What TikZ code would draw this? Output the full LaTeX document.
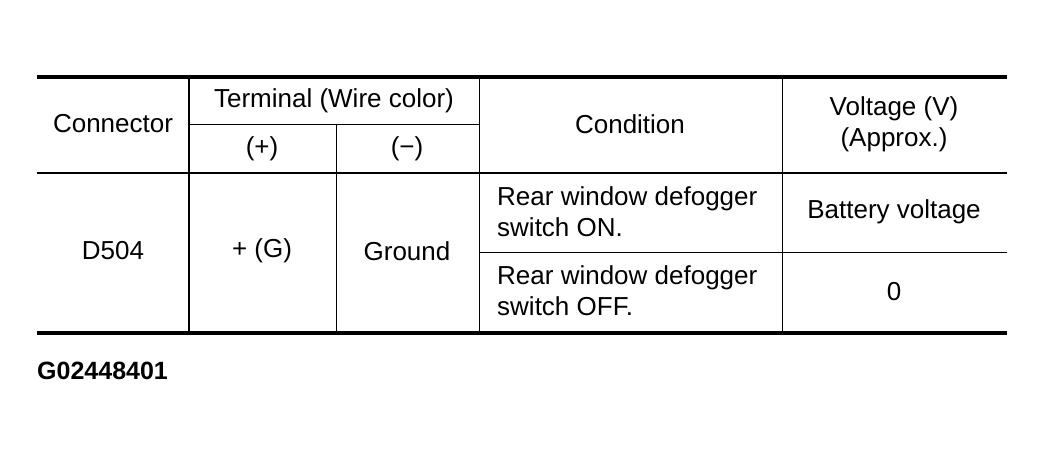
\documentclass[tikz,border=0pt]{standalone}
\usepackage{fontspec}
\setmainfont{Liberation Sans}
\usetikzlibrary{positioning}
\tikzset{cell/.style={inner sep=0pt, align=center, font=\fontsize{26}{31}\selectfont},
         lcell/.style={cell, align=left, anchor=west},
         rulebold/.style={line width=3.5pt},
         rulemid/.style={line width=2pt},
         rulethin/.style={line width=1pt}}

\begin{document}
\begin{tikzpicture}[x=1pt, y=-1pt]
  \useasboundingbox (0,0) rectangle (1044,454);

  % grid corners
  \coordinate (TL) at (37,77);    \coordinate (TR) at (1007,77);
  \coordinate (HL) at (37,173);   \coordinate (HR) at (1007,173);
  \coordinate (BL) at (37,333);   \coordinate (BR) at (1007,333);
  \coordinate (A1) at (189,77);   \coordinate (A2) at (189,333);
  \coordinate (B1) at (336,125);  \coordinate (B2) at (336,333);
  \coordinate (C1) at (479,77);   \coordinate (C2) at (479,333);
  \coordinate (D1) at (782,77);   \coordinate (D2) at (782,333);
  \coordinate (S1) at (189,125);  \coordinate (S2) at (479,125);
  \coordinate (M1) at (479,253);  \coordinate (M2) at (1007,253);

  % header
  \node[cell] (conn) at (113,124) {Connector};
  \node[cell] (term) at (334,101) {Terminal (Wire color)};
  \node[cell] (plus) at (262,149) {(+)};
  \node[cell] (minus) at (407,149) {(−)};
  \node[cell] (cond) at (630,124) {Condition};
  \node[cell] (volt) at (894,124) {Voltage (V)\\(Approx.)};

  % body
  \node[cell] (d504) at (113,251) {D504};
  \node[cell] (pg) at (262,251) {+ (G)};
  \node[cell] (gnd) at (407,251) {Ground};
  \node[lcell] (on) at (497,212) {Rear window defogger\\switch ON.};
  \node[lcell] (off) at (497,291) {Rear window defogger\\switch OFF.};
  \node[cell] (batt) at (894,212) {Battery voltage};
  \node[cell] (zero) at (894,292) {0};

  \node[cell, anchor=west, font=\fontsize{25}{30}\selectfont\bfseries] (fig) at (37,371) {G02448401};

  % rules
  \draw[rulebold] (TL) -- (TR);
  \draw[rulebold] (BL) -- (BR);
  \draw[rulemid] (HL) -- (HR);
  \draw[rulemid] (A1) -- (A2);
  \draw[rulethin] (S1) -- (S2);
  \draw[rulethin] (B1) -- (B2);
  \draw[rulethin] (C1) -- (C2);
  \draw[rulethin] (D1) -- (D2);
  \draw[rulethin] (M1) -- (M2);
\end{tikzpicture}
\end{document}
